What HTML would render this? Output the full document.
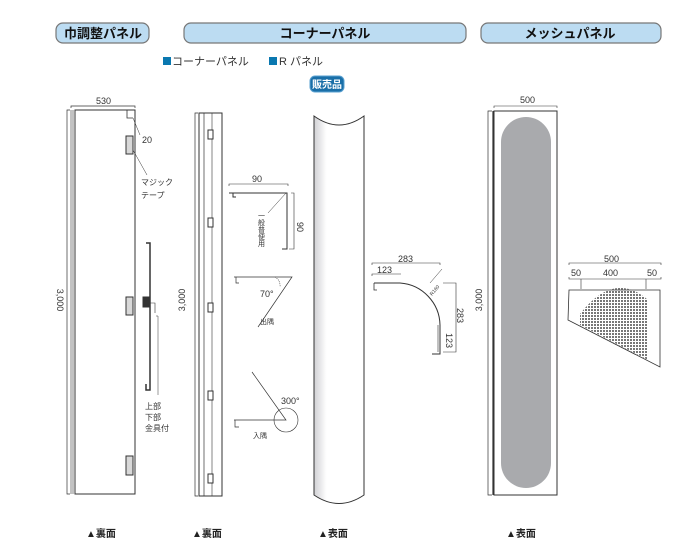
<!DOCTYPE html>
<html><head><meta charset="utf-8"><style>
body{margin:0;background:#fff;}
svg{display:block;font-family:"Liberation Sans","Noto Sans CJK JP",sans-serif;}
</style></head><body>
<svg width="700" height="550" viewBox="0 0 700 550" xmlns="http://www.w3.org/2000/svg">
<defs>
<linearGradient id="cyl" x1="0" x2="1" y1="0" y2="0">
<stop offset="0" stop-color="#d0d0d4"/><stop offset="0.25" stop-color="#fff"/><stop offset="1" stop-color="#fff"/></linearGradient>
<pattern id="dots" width="3" height="3" patternUnits="userSpaceOnUse"><rect width="2" height="2" fill="#555"/></pattern>
</defs>
<g stroke="#777" stroke-width="1.2" fill="#bcdcf2">
<rect x="56" y="23" width="93" height="20" rx="7"/>
<rect x="184" y="23" width="282" height="20" rx="7"/>
<rect x="481" y="23" width="180" height="20" rx="7"/>
</g>
<g font-weight="bold" font-size="13" text-anchor="middle" fill="#111">
<text x="103" y="38">巾調整パネル</text>
<text x="325" y="38">コーナーパネル</text>
<text x="570" y="38">メッシュパネル</text>
</g>
<rect x="163" y="57" width="8" height="8" fill="#0a78b0"/>
<text x="172" y="65" font-size="11" fill="#333">コーナーパネル</text>
<rect x="269" y="57" width="8" height="8" fill="#0a78b0"/>
<text x="279" y="65" font-size="11" fill="#333">R パネル</text>
<rect x="310" y="76" width="34" height="16" rx="5" fill="#1a6fa8" stroke="#5aa0d0"/>
<text x="327" y="88" font-size="10" font-weight="bold" fill="#fff" text-anchor="middle">販売品</text>

<g stroke="#333" fill="none" stroke-width="1">
<path d="M70 110H67V494H70" stroke-width="0.7"/>
<line x1="71" y1="110" x2="71" y2="494" stroke-width="0.6"/><line x1="73" y1="110" x2="73" y2="494" stroke-width="0.6"/>
<rect x="75" y="110" width="60" height="384"/>
<path d="M71 108V106H135V108" stroke-width="0.7"/>
<path d="M127 110V118H133" stroke-width="0.8"/>
<line x1="133" y1="118" x2="140" y2="135" stroke-width="0.5"/>
<line x1="133" y1="150" x2="147" y2="175" stroke-width="0.5"/>
<g fill="#d8d8d8"><rect x="126" y="136" width="7" height="18"/><rect x="126" y="297" width="7" height="18"/><rect x="126" y="456" width="7" height="19"/></g>
<path d="M146 243H150V390H146V384" stroke-width="1.5"/>
<rect x="143" y="297" width="6" height="10" fill="#333"/>
<path d="M150 303H155V313" stroke-width="0.6"/>
<path d="M156 316H158V395" stroke-width="0.5"/>
<path d="M198 113H195V496H198" stroke-width="0.7"/>
<line x1="199" y1="113" x2="199" y2="496" stroke-width="0.7"/><line x1="204" y1="113" x2="204" y2="496" stroke-width="0.7"/>
<line x1="212" y1="113" x2="212" y2="496" stroke-width="0.6"/>
<rect x="199" y="113" width="23" height="383"/>
<g fill="#fff"><rect x="208" y="130" width="5" height="9"/><rect x="208" y="218" width="5" height="9"/><rect x="208" y="303" width="5" height="9"/><rect x="208" y="391" width="5" height="9"/><rect x="208" y="474" width="5" height="9"/></g>
<path d="M229 186V184H288V186" stroke-width="0.6"/>
<path d="M229 193H287V249H282M233 193V197H236" stroke-width="1"/>
<path d="M291 193H294V249H289" stroke-width="0.6"/>
<line x1="286" y1="193" x2="268" y2="213" stroke-width="0.5"/>
<path d="M234 277H292L258 327M236 277V283H239" stroke-width="0.7"/>
<path d="M275 277A10 10 0 0 1 280 287" stroke-width="0.6" stroke-dasharray="1 1"/>
<path d="M234 420H286L252 372M235 420V427H239" stroke-width="0.7"/>
<circle cx="286" cy="420" r="12" stroke-width="0.6"/>
<path d="M314 116Q339 134 364 116V495Q339 512 314 495Z" fill="url(#cyl)"/>
<path d="M372 265V263H440V265M372 276V274H401" stroke-width="0.6"/>
<path d="M374 283H400A43 43 0 0 1 440 325V354H432" stroke-width="1"/>
<path d="M374 283V290H377" stroke-width="0.8"/>
<path d="M442 269L430 283" stroke-width="0.5"/>
<path d="M443 283H456V352H443M438 325V352" stroke-width="0.6"/>
<path d="M492 111H488V495H492" stroke-width="0.7"/>
<line x1="493" y1="111" x2="493" y2="495" stroke-width="1.2"/>
<rect x="494" y="111" width="63" height="384"/>
<path d="M494 108V106H557V108" stroke-width="0.6"/>
<path d="M569 265V263H661V265M569 277V279H661V277M581 279V289M646 279V289" stroke-width="0.6"/>
<path d="M569 290H660V367L568 320Z" stroke-width="0.8"/>
</g>
<rect x="501" y="117" width="50" height="371" rx="25" fill="#a9aaad"/>
<path d="M580 314Q614 270 648 300V360L580 325Z" fill="url(#dots)" opacity="0.8"/>
<g font-size="9" fill="#333">
<text x="96" y="104">530</text>
<text x="142" y="143">20</text>
<text x="141" y="185" font-size="8">マジック</text>
<text x="141" y="198" font-size="8">テープ</text>
<text x="145" y="409" font-size="8">上部</text>
<text x="145" y="420" font-size="8">下部</text>
<text x="145" y="431" font-size="8">金具付</text>
<text x="252" y="182">90</text>
<text x="260" y="324" font-size="7">出隅</text>
<text x="253" y="438" font-size="7">入隅</text>
<text x="260" y="297">70°</text>
<text x="281" y="404">300°</text>
<text x="398" y="262">283</text>
<text x="377" y="273">123</text>
<text x="520" y="103">500</text>
<text x="604" y="262">500</text>
<text x="571" y="276">50</text>
<text x="603" y="276">400</text>
<text x="647" y="276">50</text>
<text transform="translate(57,300) rotate(90)" text-anchor="middle">3,000</text>
<text transform="translate(185,300) rotate(-90)" text-anchor="middle">3,000</text>
<text transform="translate(482,300) rotate(-90)" text-anchor="middle">3,000</text>
<text transform="translate(297,222) rotate(90)">90</text>
<text transform="translate(457,308) rotate(90)">283</text>
<text transform="translate(446,333) rotate(90)">123</text>
<text transform="translate(261,212)" font-size="7" writing-mode="tb">一般普便用</text>
<text transform="translate(432,296) rotate(-50)" font-size="5">R160</text>
</g>
<g font-size="10" font-weight="bold" fill="#222">
<text x="86" y="537">▲裏面</text>
<text x="192" y="537">▲裏面</text>
<text x="318" y="537">▲表面</text>
<text x="506" y="537">▲表面</text>
</g>
</svg>
</body></html>
